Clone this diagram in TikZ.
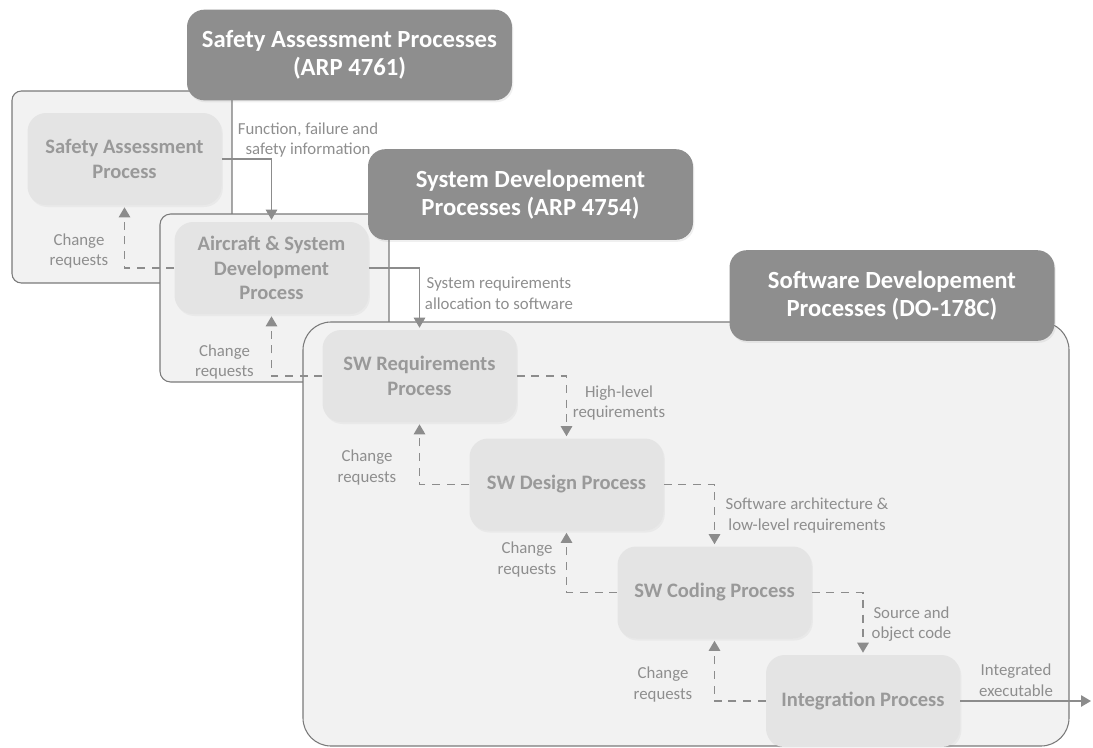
\documentclass[tikz,border=0pt]{standalone}
\usepackage{fontspec}
\setmainfont{Carlito}
\usepackage{xcolor}
\usetikzlibrary{positioning,arrows.meta,shadows}
\definecolor{headerBG}{HTML}{8E8E8E}
\definecolor{frameBG}{HTML}{F2F2F2}
\definecolor{frameBorder}{HTML}{7A7A7A}
\definecolor{procBG}{HTML}{E4E4E4}
\definecolor{procText}{HTML}{999999}
\definecolor{flowGray}{HTML}{8C8C8C}
\definecolor{noteGray}{HTML}{8E8E8E}

\begin{document}
\begin{tikzpicture}[
  x=0.75pt, y=-0.75pt,
  header/.style={fill=headerBG, text=white, rounded corners=13pt, minimum width=243.75pt,
    minimum height=68pt, align=center, font=\fontsize{18.5}{21}\selectfont\bfseries,
    drop shadow={opacity=0.12, shadow xshift=1pt, shadow yshift=-1.5pt}},
  frame/.style={fill=frameBG, draw=frameBorder, line width=0.8pt},
  process/.style={fill=procBG, text=procText, rounded corners=14pt, minimum width=145.5pt,
    minimum height=69pt, align=center, font=\fontsize{15.4}{18.6}\selectfont\bfseries,
    drop shadow={opacity=0.08, shadow xshift=1pt, shadow yshift=-1.5pt}},
  flow/.style={draw=flowGray, line width=1.25pt, -{Triangle[length=7.5pt,width=8.5pt]}, shorten >=1.5pt},
  feedback/.style={flow, dash pattern=on 6pt off 5pt},
  note/.style={text=noteGray, align=center, font=\fontsize{12.6}{15.5}\selectfont, inner sep=0pt},
]
\useasboundingbox (0,0) rectangle (1093,747);

% Safety assessment (ARP 4761)
\draw[frame, rounded corners=7pt] (12,91) rectangle (232,283);
\node[process] (sa) at (124.5,159) {Safety Assessment\\Process};
\node[header] (hsa) at (349.5,55) {Safety Assessment Processes\\(ARP 4761)};

% System development (ARP 4754)
\draw[frame, rounded corners=8pt] (160,214) rectangle (389,382);
\node[process] (asd) at (271.5,268) {Aircraft \& System\\Development\\Process};
\node[header] (hsys) at (530.5,194.5) {System Developement\\Processes (ARP 4754)};

% Software development (DO-178C)
\draw[frame, rounded corners=21pt] (303,322) rectangle (1069,746);
\node[process] (swreq) at (419.5,376) {SW Requirements\\Process};
\node[process] (swdes) at (566.5,484.5) {SW Design Process};
\node[process] (swcod) at (714.5,592.5) {SW Coding Process};
\node[process] (integ) at (863,701) {Integration Process};
\node[header] (hsw) at (892,295.5) {Software Developement\\Processes (DO-178C)};

\coordinate (out) at (1093,701);

% Forward flow
\draw[flow] (sa.east) -| (asd.north);
\draw[flow] (asd.east) -| (swreq.north);
\draw[feedback] (swreq.east) -| (swdes.north);
\draw[feedback] (swdes.east) -| (swcod.north);
\draw[feedback] (swcod.east) -| (integ.north);
\draw[flow] (integ.east) -- (out);

% Change requests
\draw[feedback] (asd.west) -| (sa.south);
\draw[feedback] (swreq.west) -| (asd.south);
\draw[feedback] (swdes.west) -| (swreq.south);
\draw[feedback] (swcod.west) -| (swdes.south);
\draw[feedback] (integ.west) -| (swcod.south);

% Flow labels
\node[note] (lfun) at (308,140) {Function, failure and\\safety information};
\node[note] (lsys) at (499,293.5) {System requirements\\allocation to software};
\node[note] (lhl) at (619,403) {High-level\\requirements};
\node[note] (lsa) at (807,515.5) {Software architecture \&\\low-level requirements};
\node[note] (lsrc) at (911.5,624) {Source and\\object code};
\node[note] (lint) at (1016,680.5) {Integrated\\executable};

% Change request labels
\node[note] (c1) at (79,251) {Change\\requests};
\node[note] (c2) at (224.5,362) {Change\\requests};
\node[note] (c3) at (367,467.5) {Change\\requests};
\node[note] (c4) at (527,559.5) {Change\\requests};
\node[note] (c5) at (663,684.5) {Change\\requests};

\end{tikzpicture}
\end{document}
